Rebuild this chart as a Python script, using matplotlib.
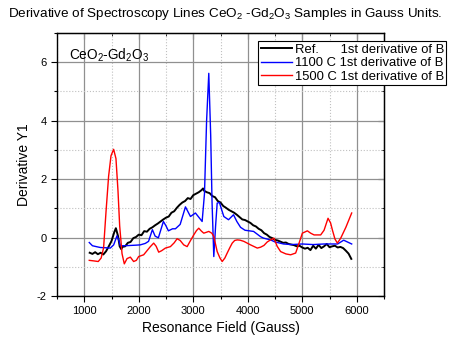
import numpy as np
import matplotlib
matplotlib.use("Agg")
import matplotlib.pyplot as plt
from matplotlib.ticker import MultipleLocator

plt.rcParams['font.family'] = ['Liberation Sans', 'DejaVu Sans']
plt.rcParams['mathtext.fontset'] = 'custom'
plt.rcParams['mathtext.rm'] = 'Liberation Sans'
plt.rcParams['mathtext.it'] = 'Liberation Sans'
plt.rcParams['axes.unicode_minus'] = False

# Ref. sample (noisy black trace)
ref_field = [1100, 1150, 1200, 1250, 1300, 1350, 1400, 1450, 1500, 1550,
             1580, 1620, 1650, 1680, 1700, 1750, 1800, 1850, 1900, 1950,
             2000, 2050, 2100, 2150, 2200, 2250, 2300, 2350, 2400, 2450,
             2500, 2550, 2600, 2650, 2700, 2750, 2800, 2850, 2900, 2950,
             3000, 3050, 3100, 3150, 3180, 3200, 3250, 3300, 3350, 3400,
             3450, 3500, 3550, 3600, 3650, 3700, 3750, 3800, 3850, 3900,
             3950, 4000, 4050, 4100, 4150, 4200, 4250, 4300, 4350, 4400,
             4450, 4500, 4550, 4600, 4650, 4700, 4750, 4800, 4850, 4900,
             4950, 5000, 5050, 5100, 5150, 5200, 5250, 5300, 5350, 5400,
             5450, 5500, 5550, 5600, 5650, 5700, 5750, 5800, 5850, 5900]
ref_y = [-0.52, -0.56, -0.50, -0.57, -0.52, -0.58, -0.47, -0.30, -0.12, 0.18,
         0.32, 0.05, -0.30, -0.40, -0.32, -0.30, -0.18, -0.15, -0.02, 0.02,
         0.10, 0.08, 0.22, 0.20, 0.30, 0.35, 0.42, 0.48, 0.55, 0.62,
         0.68, 0.72, 0.85, 0.90, 1.02, 1.12, 1.20, 1.25, 1.35, 1.32,
         1.45, 1.50, 1.55, 1.62, 1.68, 1.60, 1.55, 1.52, 1.42, 1.38,
         1.25, 1.20, 1.08, 1.02, 0.95, 0.90, 0.85, 0.78, 0.70, 0.62,
         0.60, 0.55, 0.50, 0.42, 0.38, 0.30, 0.25, 0.15, 0.10, 0.02,
         -0.02, -0.08, -0.10, -0.14, -0.18, -0.17, -0.22, -0.24, -0.26, -0.30,
         -0.28, -0.34, -0.38, -0.35, -0.43, -0.28, -0.38, -0.25, -0.36, -0.30,
         -0.22, -0.33, -0.30, -0.28, -0.34, -0.32, -0.36, -0.45, -0.55, -0.73]

# 1100 C sample (blue)
s1100_field = [1092, 1150, 1220, 1294, 1400, 1478, 1540, 1601, 1635, 1662,
               1750, 1850, 1950, 2029, 2120, 2180, 2250, 2300, 2360, 2452,
               2500, 2544, 2620, 2673, 2760, 2857, 2949, 3040, 3100, 3163,
               3206, 3245, 3285, 3320, 3345, 3377, 3410, 3439, 3480, 3530,
               3561, 3647, 3739, 3800, 3868, 3950, 4107, 4235, 4290, 4419,
               4500, 4657, 4800, 5000, 5200, 5400, 5649, 5760, 5907]
s1100_y = [-0.17, -0.28, -0.31, -0.34, -0.35, -0.36, -0.25, 0.06, -0.10, -0.28,
           -0.28, -0.27, -0.26, -0.25, -0.20, -0.13, 0.27, 0.05, -0.01, 0.55,
           0.40, 0.23, 0.30, 0.30, 0.45, 1.05, 0.72, 0.84, 0.70, 0.55,
           1.50, 4.00, 5.62, 3.50, 1.20, -0.65, 0.40, 1.18, 1.20, 0.90,
           0.72, 0.61, 0.78, 0.55, 0.35, 0.25, 0.21, 0.03, -0.02, -0.08,
           -0.15, -0.22, -0.24, -0.22, -0.24, -0.22, -0.22, -0.09, -0.22]

# 1500 C sample (red)
s1500_field = [1092, 1180, 1257, 1310, 1355, 1400, 1447, 1491, 1539, 1582,
               1619, 1650, 1693, 1735, 1785, 1846, 1906, 1956, 1998, 2090,
               2213, 2274, 2320, 2366, 2420, 2489, 2581, 2650, 2704, 2760,
               2825, 2888, 2950, 3009, 3060, 3101, 3150, 3193, 3240, 3285,
               3340, 3377, 3439, 3490, 3531, 3580, 3623, 3670, 3715, 3760,
               3807, 3860, 3928, 4051, 4175, 4235, 4297, 4358, 4419, 4480,
               4540, 4603, 4700, 4787, 4879, 4940, 5002, 5094, 5154, 5217,
               5338, 5400, 5473, 5520, 5553, 5600, 5645, 5706, 5800, 5907]
s1500_y = [-0.78, -0.80, -0.82, -0.70, -0.35, 0.90, 2.10, 2.80, 3.02, 2.70,
           1.60, 0.40, -0.55, -0.90, -0.72, -0.67, -0.82, -0.78, -0.65, -0.59,
           -0.31, -0.19, -0.30, -0.50, -0.45, -0.36, -0.31, -0.18, -0.04, -0.10,
           -0.25, -0.31, -0.10, 0.09, 0.24, 0.32, 0.22, 0.15, 0.18, 0.21,
           0.15, 0.04, -0.48, -0.70, -0.82, -0.70, -0.53, -0.35, -0.19, -0.10,
           -0.08, -0.09, -0.13, -0.25, -0.36, -0.33, -0.27, -0.15, -0.08, -0.02,
           -0.30, -0.48, -0.56, -0.59, -0.53, -0.20, 0.15, 0.23, 0.15, 0.09,
           0.09, 0.25, 0.66, 0.50, 0.26, -0.05, -0.19, -0.02, 0.35, 0.84]

fig = plt.figure(figsize=(4.5, 3.37), dpi=100)
ax = fig.add_axes([57 / 450, 41 / 337, 327 / 450, 263 / 337])

ax.plot(ref_field, ref_y, color='black', lw=1.4, label='Ref.      1st derivative of B', zorder=3)
ax.plot(s1100_field, s1100_y, color='blue', lw=1.0, label='1100 C 1st derivative of B', zorder=4)
ax.plot(s1500_field, s1500_y, color='red', lw=1.0, label='1500 C 1st derivative of B', zorder=4)

ax.set_xlim(500, 6500)
ax.set_ylim(-2, 7)
ax.xaxis.set_minor_locator(MultipleLocator(500))
ax.yaxis.set_minor_locator(MultipleLocator(1))
ax.set_xticks([1000, 2000, 3000, 4000, 5000, 6000])
ax.set_yticks([-2, 0, 2, 4, 6])

ax.grid(which='major', color='#909090', lw=0.9, ls='-', zorder=0)
ax.grid(which='minor', color='#c0c0c0', lw=0.8, ls=':', zorder=0)
ax.set_axisbelow(True)

ax.tick_params(which='major', direction='out', length=4, width=0.8, labelsize=8)
ax.tick_params(which='minor', direction='out', length=2, width=0.8)
for s in ax.spines.values():
    s.set_linewidth(1.0)

top = ax.secondary_xaxis('top')
top.xaxis.set_major_locator(MultipleLocator(1000))
top.xaxis.set_minor_locator(MultipleLocator(500))
top.tick_params(which='major', direction='in', length=4, labeltop=False)
top.tick_params(which='minor', direction='in', length=2)
right = ax.secondary_yaxis('right')
right.yaxis.set_major_locator(MultipleLocator(2))
right.yaxis.set_minor_locator(MultipleLocator(1))
right.tick_params(which='major', direction='in', length=4, labelright=False)
right.tick_params(which='minor', direction='in', length=2)

ax.set_xlabel('Resonance Field (Gauss)', fontsize=10, labelpad=3)
ax.set_ylabel('Derivative Y1', fontsize=10, labelpad=4)

ax.text(724, 6.25, r'$\mathregular{CeO_2}$-$\mathregular{Gd_2O_3}$', fontsize=9.8,
        ha='left', va='center')

fig.text(0.5, 1 - 14 / 337,
         r'Derivative of Spectroscopy Lines $\mathregular{CeO_2}$ -$\mathregular{Gd_2O_3}$ Samples in Gauss Units.',
         fontsize=9.7, ha='center', va='center')

leg = ax.legend(loc='upper left', bbox_to_anchor=(258 / 450, 1 - 41 / 337),
                bbox_transform=fig.transFigure, fontsize=9.4, frameon=True,
                fancybox=False, edgecolor='black', framealpha=1,
                handlelength=2.4, handletextpad=0.2, borderpad=0.2,
                labelspacing=0.1, borderaxespad=0)
leg.get_frame().set_linewidth(0.8)

fig.savefig('out.png', dpi=100)
